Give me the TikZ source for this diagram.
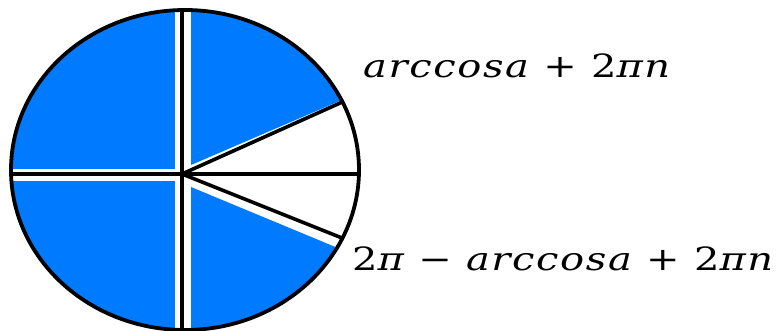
\documentclass[tikz,border=0pt]{standalone}
\usepackage{fontspec}
\usepackage{xcolor}
\usepackage{tikz}
\usetikzlibrary{calc}
\newfontfamily\rootfont[LetterSpace=4]{DejaVu Serif}
\definecolor{pieblue}{RGB}{0,122,255}
\tikzset{
    sector/.style={fill=pieblue, draw=none},
    spoke/.style={line width=3.6pt, black},
    rim/.style={line width=3.8pt, black},
    root/.style={anchor=base west, inner sep=0, font=\rootfont\fontsize{32}{38}\selectfont},
}
\newcommand{\vr}[1]{{\itshape #1}}
\newcommand{\wide}[1]{\scalebox{1.25}[1]{#1}}

\begin{document}
\begin{tikzpicture}[x=1pt, y=-1pt]
    \useasboundingbox (0,0) rectangle (782,331);
    \coordinate (o) at (182,174);
    \coordinate (c) at (185,170);
    \coordinate (up) at (345,100.8);
    \coordinate (dn) at (347,240);

    \begin{scope}
        \clip (c) ellipse [x radius=174, y radius=160];
        % quarters and slices
        \fill[sector] (0,0) rectangle (175,169);
        \fill[sector] (0,181) rectangle (175,340);
        \fill[sector] (191,165) -- (335,103) -- (360,92) -- (360,0) -- (191,0) -- cycle;
        \fill[sector] (191,187) -- (333,246) -- (360,257) -- (360,340) -- (191,340) -- cycle;
        % spokes
        \draw[spoke] (0,174) -- (370,174);
        \draw[spoke] (182,0) -- (182,340);
        \draw[spoke] (o) -- (up);
        \draw[spoke] (o) -- (dn);
    \end{scope}
    \draw[rim] (c) ellipse [x radius=174, y radius=160];

    \node[root] (top) at (363,78) {\wide{\vr{arccosa} + 2\vr{πn}}};
    \node[root] (bot) at (352,270) {\wide{2\vr{π} − \vr{arccosa} + 2\vr{πn}}};
\end{tikzpicture}
\end{document}
